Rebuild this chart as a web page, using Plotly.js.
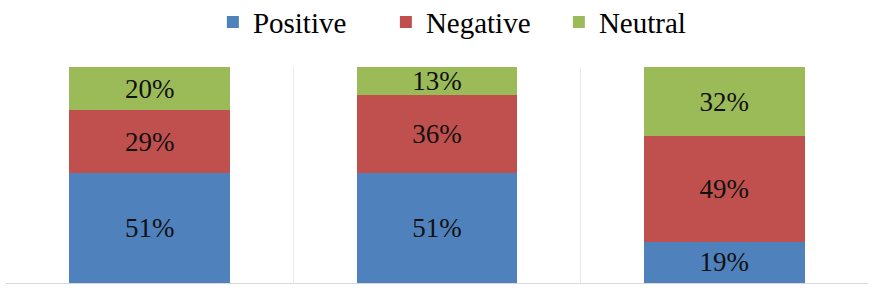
<!DOCTYPE html>
<html>
<head>
<meta charset="utf-8">
<script src="https://cdn.plot.ly/plotly-3.0.1.min.js"></script>
</head>
<body style="margin:0;background:#fff;font-family:'Liberation Serif', 'Times New Roman', serif">
<div id="chart" style="width:875px;height:293px"></div>
<script>
const categories = ["Group 1", "Group 2", "Group 3"];
const positive = [51, 51, 19];
const negative = [29, 36, 49];
const neutral = [20, 13, 32];
const seriesNames = ["Positive", "Negative", "Neutral"];
const seriesColors = ["#4F81BD", "#C0504D", "#9BBB59"];
const seriesValues = [positive, negative, neutral];

const serifFamily = "Liberation Serif, Times New Roman, serif";

const traces = seriesValues.map((vals, i) => ({
  type: "bar",
  name: seriesNames[i],
  x: categories,
  y: vals,
  text: vals.map(v => v + "%"),
  marker: {color: seriesColors[i], line: {width: 0}},
  textposition: "inside",
  insidetextanchor: "middle",
  constraintext: "none",
  textangle: 0,
  textfont: {family: serifFamily, size: 27, color: "#111"},
  hoverinfo: "skip"
}));

const layout = {
  width: 875,
  height: 293,
  margin: {l: 6, r: 7, t: 67, b: 10, pad: 0, autoexpand: false},
  barmode: "stack",
  bargap: 0.44,
  paper_bgcolor: "#fff",
  plot_bgcolor: "#fff",
  showlegend: true,
  legend: {
    orientation: "h",
    x: 0.24,
    xanchor: "left",
    y: 1.208,
    yanchor: "middle",
    font: {family: serifFamily, size: 29, color: "#000"},
    entrywidth: 128,
    entrywidthmode: "pixels",
    traceorder: "normal",
    bgcolor: "rgba(0,0,0,0)"
  },
  xaxis: {
    type: "category",
    tickson: "boundaries",
    showticklabels: false,
    ticks: "",
    showgrid: true,
    gridcolor: "#ebebeb",
    gridwidth: 1,
    showline: true,
    linecolor: "#d9d9d9",
    linewidth: 1,
    zeroline: false
  },
  yaxis: {
    range: [0, 100],
    showticklabels: false,
    showgrid: false,
    zeroline: false,
    showline: false,
    ticks: ""
  }
};

function draw() {
  Plotly.newPlot("chart", traces, layout, {staticPlot: true});
}
if (document.fonts && document.fonts.load) {
  Promise.all([
    document.fonts.load("27px 'Liberation Serif'"),
    document.fonts.load("29px 'Liberation Serif'")
  ]).then(draw, draw);
} else {
  draw();
}
</script>
</body>
</html>
